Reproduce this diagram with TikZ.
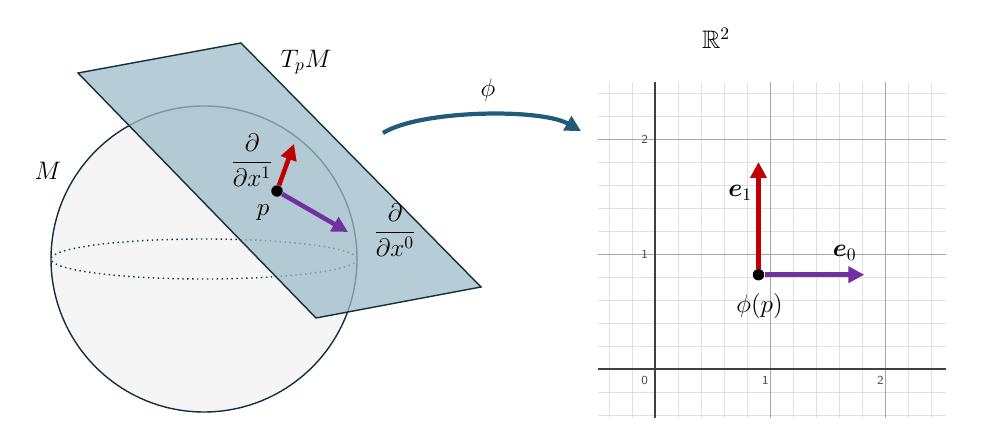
\documentclass[tikz,border=0pt]{standalone}
\usepackage{amsmath}
\usepackage{amssymb}
\usepackage{bm}
\definecolor{edgeblue}{HTML}{14303F}
\definecolor{planeblue}{HTML}{9DBBC8}
\definecolor{vecred}{HTML}{C00000}
\definecolor{vecpurple}{HTML}{7030A0}
\definecolor{maparrow}{HTML}{1F5C7A}
\tikzset{
  vec/.style={line width=2.6pt, -{Triangle[length=9pt,width=9pt]}},
  lbl/.style={font=\Large},
  tick/.style={font=\sffamily\scriptsize, text=black!70},
}
\usetikzlibrary{arrows.meta}
\begin{document}
\begin{tikzpicture}[x=0.02cm, y=-0.02cm]
    \useasboundingbox (0,0) rectangle (995,428);

    % Sphere
    \draw [edgeblue, thick, fill=black!4] (204,259) circle [radius=153];
    \draw [edgeblue, thick, dotted] (204,259) ellipse [x radius=153, y radius=20];

    % Tangent plane
    \draw [edgeblue, thick, fill=planeblue, fill opacity=0.75]
          (78,73) -- (241,43) -- (481,287) -- (316,318) -- cycle;

    % Basis vectors at p
    \node [circle, fill=black, inner sep=2.3pt] (p) at (277,191) {};
    \coordinate (d1) at (294,144);
    \coordinate (d0) at (348,232);
    \draw [vec, vecred] (p) -- (d1);
    \draw [vec, vecpurple] (p) -- (d0);

    % Labels
    \node [lbl] (M) at (48,171) {$M$};
    \node [lbl] (TpM) at (306,62) {$T_pM$};
    \node [lbl] (dx1) at (252,160) {$\dfrac{\partial}{\partial x^1}$};
    \node [lbl] (plabel) at (263,213) {$p$};
    \node [lbl] (dx0) at (395,230) {$\dfrac{\partial}{\partial x^0}$};

    % Chart map
    \coordinate (mapstart) at (383,133);
    \coordinate (mapend) at (581,131);
    \draw [maparrow, line width=2.4pt, -{Triangle[length=9pt,width=9pt]}]
          (mapstart) .. controls (420,110) and (540,108) .. (mapend);
    \node [lbl] (phi) at (488,90) {$\phi$};
    \node [lbl] (R2) at (716,38) {$\mathbb{R}^2$};

    % R^2 grid
    \begin{scope}[shift={(655,369)}, x=2.3cm, y=2.3cm]
      \draw [black!12, step=0.2] (-0.5,-0.43) grid (2.53,2.5);
      \draw [black!35, step=1] (-0.5,-0.43) grid (2.53,2.5);
      \draw [black!75, thick] (-0.5,0) -- (2.53,0);
      \draw [black!75, thick] (0,-0.43) -- (0,2.5);
      \node [tick] (t0) at (-0.09,-0.1) {0};
      \node [tick] (tx1) at (0.96,-0.1) {1};
      \node [tick] (tx2) at (1.96,-0.1) {2};
      \node [tick] (ty1) at (-0.09,1.0) {1};
      \node [tick] (ty2) at (-0.09,2.0) {2};

      \node [circle, fill=black, inner sep=2.3pt] (phip) at (0.9,0.82) {};
      \coordinate (e1tip) at (0.9,1.8);
      \coordinate (e0tip) at (1.82,0.82);
      \draw [vec, vecred] (phip) -- (e1tip);
      \draw [vec, vecpurple] (phip) -- (e0tip);
      \node [lbl] (e1) at (0.74,1.53) {$\bm{e}_1$};
      \node [lbl] (e0) at (1.65,1.01) {$\bm{e}_0$};
      \node [lbl] (phiplabel) at (0.91,0.55) {$\phi(p)$};
    \end{scope}
\end{tikzpicture}
\end{document}
